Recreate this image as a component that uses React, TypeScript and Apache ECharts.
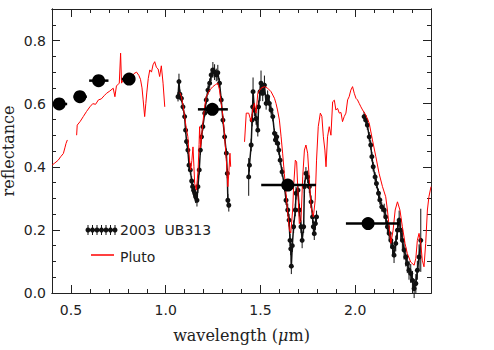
import { useEffect, useRef } from "react";
import * as echarts from "echarts";

// Pluto spectrum (null = gap)
const plutoWave = [
  0.400, 0.415, 0.433, 0.446, 0.460, 0.468, 0.474, 0.481, null,
  0.530, 0.533, 0.548, 0.565, 0.582, 0.600, 0.615, 0.630, 0.645, 0.660, 0.675, 0.688, 0.705, 0.723, 0.732, 0.740, 0.755, 0.762, 0.767, 0.780, 0.793, 0.805, 0.819, 0.832, 0.846, 0.858, 0.867, 0.875, 0.881, 0.889, 0.895, 0.900, 0.908, 0.916, 0.925, 0.933, 0.942, 0.951, 0.960, 0.968, 0.977, 0.986, 0.995, null,
  1.075, 1.083, 1.091, 1.100, 1.108, 1.117, 1.126, 1.132, 1.138, 1.144, 1.149, 1.153, 1.162, 1.171, 1.176, 1.179, 1.184, 1.190, 1.196, 1.205, 1.214, 1.232, 1.249, 1.262, 1.275, 1.284, 1.293, 1.302, 1.311, 1.320, 1.328, 1.333, 1.339, 1.343, null,
  1.416, 1.425, 1.438, 1.451, 1.459, 1.468, 1.477, 1.486, 1.503, 1.521, 1.538, 1.556, 1.574, 1.582, 1.590, 1.600, 1.609, 1.617, 1.626, 1.635, 1.644, 1.653, 1.660, 1.670, 1.675, 1.684, 1.691, 1.698, 1.705, 1.714, 1.723, 1.732, 1.740, 1.749, 1.758, 1.767, 1.779, 1.789, 1.796, 1.805, 1.816, 1.824, 1.832, 1.840, 1.846, 1.854, 1.863, 1.872, 1.881, 1.890, 1.898, 1.907, 1.916, 1.925, 1.933, 1.942, 1.951, 1.960, 1.968, 1.977, 1.986, 1.995, 2.004, 2.012, 2.021, 2.030, 2.039, 2.056, 2.074, 2.091, 2.109, 2.126, 2.144, 2.161, 2.170, 2.179, 2.188, 2.200, 2.211, 2.223, 2.236, 2.249, 2.263, 2.275, 2.293, 2.311, 2.320, 2.328, 2.337, 2.346, 2.354, 2.363, 2.372, 2.381, 2.389, 2.400,
];
const plutoRefl = [
  0.405, 0.412, 0.421, 0.432, 0.442, 0.460, 0.474, 0.485, null,
  0.500, 0.532, 0.543, 0.559, 0.575, 0.590, 0.600, 0.598, 0.612, 0.615, 0.625, 0.633, 0.640, 0.649, 0.622, 0.656, 0.665, 0.760, 0.665, 0.680, 0.691, 0.685, 0.681, 0.695, 0.700, 0.690, 0.677, 0.650, 0.612, 0.559, 0.600, 0.634, 0.680, 0.707, 0.700, 0.723, 0.733, 0.715, 0.710, 0.686, 0.720, 0.665, 0.590, null,
  0.635, 0.622, 0.595, 0.559, 0.525, 0.495, 0.421, 0.390, 0.420, 0.463, 0.400, 0.347, 0.326, 0.390, 0.470, 0.527, 0.460, 0.500, 0.538, 0.590, 0.622, 0.643, 0.654, 0.660, 0.665, 0.643, 0.600, 0.559, 0.495, 0.421, 0.337, 0.380, 0.443, 0.400, null,
  0.479, 0.570, 0.570, 0.543, 0.580, 0.601, 0.570, 0.633, 0.649, 0.654, 0.649, 0.638, 0.617, 0.601, 0.580, 0.548, 0.495, 0.443, 0.379, 0.316, 0.252, 0.199, 0.190, 0.263, 0.337, 0.421, 0.415, 0.316, 0.220, 0.230, 0.368, 0.453, 0.469, 0.443, 0.358, 0.273, 0.241, 0.294, 0.421, 0.527, 0.570, 0.560, 0.495, 0.453, 0.400, 0.495, 0.527, 0.500, 0.606, 0.611, 0.580, 0.585, 0.570, 0.572, 0.543, 0.559, 0.570, 0.612, 0.622, 0.643, 0.654, 0.633, 0.617, 0.612, 0.601, 0.590, 0.580, 0.564, 0.538, 0.485, 0.432, 0.379, 0.337, 0.305, 0.263, 0.210, 0.157, 0.199, 0.263, 0.289, 0.263, 0.210, 0.157, 0.125, 0.098, 0.088, 0.110, 0.167, 0.189, 0.157, 0.104, 0.083, 0.157, 0.263, 0.305, 0.337,
];

// 2003 UB313 spectrum, three bands
const ub1Wave = [1.065, 1.070, 1.075, 1.083, 1.091, 1.100, 1.105, 1.110, 1.117, 1.123, 1.130, 1.137, 1.142, 1.147, 1.153, 1.158, 1.165, 1.170, 1.177, 1.183, 1.189, 1.196, 1.206, 1.214, 1.223, 1.232, 1.240, 1.249, 1.258, 1.267, 1.275, 1.284, 1.293, 1.302, 1.311, 1.320, 1.325, 1.328, 1.333];
const ub1Refl = [0.622, 0.670, 0.630, 0.617, 0.590, 0.559, 0.516, 0.480, 0.453, 0.405, 0.390, 0.355, 0.337, 0.326, 0.316, 0.305, 0.294, 0.337, 0.390, 0.453, 0.495, 0.527, 0.570, 0.612, 0.643, 0.665, 0.691, 0.707, 0.700, 0.691, 0.698, 0.665, 0.612, 0.548, 0.495, 0.443, 0.379, 0.294, 0.278];
const ub1Err = [0.015, 0.025, 0.015, 0.012, 0.012, 0.012, 0.012, 0.012, 0.012, 0.015, 0.015, 0.015, 0.02, 0.02, 0.02, 0.02, 0.02, 0.02, 0.015, 0.015, 0.012, 0.012, 0.012, 0.012, 0.015, 0.015, 0.02, 0.025, 0.025, 0.02, 0.025, 0.015, 0.012, 0.012, 0.012, 0.015, 0.015, 0.02, 0.02];

const ub2Wave = [1.438, 1.442, 1.451, 1.456, 1.459, 1.461, 1.468, 1.477, 1.486, 1.490, 1.498, 1.503, 1.512, 1.521, 1.530, 1.538, 1.547, 1.556, 1.565, 1.574, 1.579, 1.586, 1.591, 1.597, 1.604, 1.614, 1.627, 1.635, 1.644, 1.651, 1.656, 1.660, 1.663, 1.668, 1.675, 1.684, 1.688, 1.698, 1.705, 1.714, 1.720, 1.728, 1.732, 1.740, 1.749, 1.758, 1.767, 1.775, 1.779, 1.784, 1.790, 1.796];
const ub2Refl = [0.368, 0.405, 0.469, 0.548, 0.590, 0.638, 0.580, 0.553, 0.516, 0.590, 0.638, 0.665, 0.633, 0.659, 0.601, 0.622, 0.601, 0.580, 0.559, 0.506, 0.485, 0.495, 0.474, 0.453, 0.421, 0.384, 0.337, 0.294, 0.263, 0.231, 0.167, 0.140, 0.085, 0.150, 0.210, 0.263, 0.316, 0.326, 0.263, 0.210, 0.167, 0.210, 0.337, 0.379, 0.368, 0.337, 0.289, 0.241, 0.210, 0.188, 0.220, 0.241];
const ub2Err = [0.06, 0.02, 0.02, 0.02, 0.02, 0.045, 0.02, 0.02, 0.02, 0.02, 0.03, 0.04, 0.025, 0.03, 0.02, 0.02, 0.02, 0.015, 0.015, 0.015, 0.015, 0.015, 0.015, 0.015, 0.015, 0.015, 0.015, 0.015, 0.02, 0.02, 0.02, 0.02, 0.025, 0.02, 0.02, 0.02, 0.02, 0.02, 0.02, 0.02, 0.025, 0.02, 0.02, 0.02, 0.02, 0.02, 0.02, 0.02, 0.02, 0.02, 0.02, 0.02];

const ub3Wave = [2.047, 2.056, 2.064, 2.074, 2.082, 2.088, 2.095, 2.105, 2.112, 2.123, 2.130, 2.140, 2.153, 2.161, 2.170, 2.179, 2.188, 2.197, 2.205, 2.214, 2.223, 2.232, 2.240, 2.249, 2.258, 2.267, 2.275, 2.284, 2.293, 2.302, 2.311, 2.320, 2.328, 2.337, 2.346];
const ub3Refl = [0.559, 0.548, 0.532, 0.495, 0.469, 0.432, 0.400, 0.368, 0.347, 0.316, 0.295, 0.273, 0.263, 0.241, 0.210, 0.189, 0.167, 0.146, 0.120, 0.157, 0.199, 0.231, 0.199, 0.167, 0.136, 0.114, 0.093, 0.072, 0.062, 0.040, 0.014, 0.030, 0.072, 0.114, 0.167];
const ub3Err = [0.015, 0.015, 0.015, 0.015, 0.015, 0.015, 0.015, 0.015, 0.015, 0.015, 0.015, 0.015, 0.02, 0.02, 0.02, 0.02, 0.025, 0.025, 0.025, 0.025, 0.03, 0.03, 0.03, 0.03, 0.03, 0.03, 0.03, 0.03, 0.03, 0.03, 0.03, 0.03, 0.03, 0.04, 0.10];

// Broadband photometry
const photWave = [0.438, 0.547, 0.646, 0.807, 1.246, 1.644, 2.068];
const photRefl = [0.599, 0.622, 0.673, 0.678, 0.582, 0.342, 0.220];
const photLo = [0.41, 0.514, 0.596, 0.768, 1.17, 1.504, 1.951];
const photHi = [0.48, 0.584, 0.698, 0.838, 1.328, 1.793, 2.232];

// Ticks
const xMajor = [0.5, 1.0, 1.5, 2.0];
const xMinor = [0.4, 0.5, 0.6, 0.7, 0.8, 0.9, 1.0, 1.1, 1.2, 1.3, 1.4, 1.5, 1.6, 1.7, 1.8, 1.9, 2.0, 2.1, 2.2, 2.3, 2.4];
const yMajor = [0.0, 0.2, 0.4, 0.6, 0.8];
const yMinor = [0.0, 0.05, 0.1, 0.15, 0.2, 0.25, 0.3, 0.35, 0.4, 0.45, 0.5, 0.55, 0.6, 0.65, 0.7, 0.75, 0.8, 0.85, 0.9];

function segments(w: (number | null)[], r: (number | null)[]) {
  const out: number[][][] = [];
  let cur: number[][] = [];
  w.forEach((x, i) => {
    if (x == null || r[i] == null) {
      if (cur.length) out.push(cur);
      cur = [];
    } else cur.push([x, r[i] as number]);
  });
  if (cur.length) out.push(cur);
  return out;
}

const AXC = "#222";
const tickFont = "DejaVu Sans";
const serif = "DejaVu Serif";

export default function App() {
  const ref = useRef<HTMLDivElement>(null);
  useEffect(() => {
    const chart = echarts.init(ref.current!, null, { renderer: "svg" });

    const mkX = (pos: string, vals: number[], len: number, labels: boolean, name?: boolean): any => ({
      type: "value",
      position: pos,
      min: 0.4,
      max: 2.4,
      axisLine: { show: true, onZero: false, lineStyle: { color: AXC, width: 1 } },
      axisTick: { show: true, inside: true, length: len, customValues: vals, lineStyle: { color: AXC, width: 1 } },
      axisLabel: labels
        ? { show: true, customValues: xMajor, margin: 10, fontFamily: tickFont, fontSize: 14, color: "#222", formatter: (v: number) => v.toFixed(1) }
        : { show: false },
      splitLine: { show: false },
      ...(name
        ? {
            name: "wavelength ({i|μ}m)",
            nameLocation: "middle",
            nameGap: 34,
            nameMoveOverlap: false,
            nameTextStyle: { fontFamily: serif, fontSize: 16, color: "#222", rich: { i: { fontFamily: serif, fontSize: 16, fontStyle: "italic", color: "#222" } } },
          }
        : {}),
    });
    const mkY = (pos: string, vals: number[], len: number, labels: boolean, name?: boolean): any => ({
      type: "value",
      position: pos,
      min: 0,
      max: 0.9,
      axisLine: { show: true, onZero: false, lineStyle: { color: AXC, width: 1 } },
      axisTick: { show: true, inside: true, length: len, customValues: vals, lineStyle: { color: AXC, width: 1 } },
      axisLabel: labels
        ? { show: true, customValues: yMajor, margin: 6, fontFamily: tickFont, fontSize: 14, color: "#222", formatter: (v: number) => v.toFixed(1) }
        : { show: false },
      splitLine: { show: false },
      ...(name
        ? {
            name: "reflectance",
            nameLocation: "middle",
            nameGap: 36,
            nameMoveOverlap: false,
            nameTextStyle: { fontFamily: serif, fontSize: 16, color: "#222" },
          }
        : {}),
    });

    const plutoSegs = segments(plutoWave, plutoRefl);
    const ubBands = [
      [ub1Wave, ub1Refl, ub1Err],
      [ub2Wave, ub2Refl, ub2Err],
      [ub3Wave, ub3Refl, ub3Err],
    ];

    const series: any[] = [];
    ubBands.forEach(([w, r, e]) => {
      series.push({
        type: "custom",
        xAxisIndex: 0,
        yAxisIndex: 0,
        z: 2,
        data: w.map((x, i) => [x, r[i], e[i] ?? 0.02]),
        renderItem: (_p: any, api: any) => {
          const x = api.value(0), y = api.value(1), er = api.value(2);
          const a = api.coord([x, y - er]);
          const b = api.coord([x, y + er]);
          return { type: "line", shape: { x1: a[0], y1: a[1], x2: b[0], y2: b[1] }, style: { stroke: "#111", lineWidth: 1 } };
        },
      });
      series.push({
        type: "line",
        xAxisIndex: 0,
        yAxisIndex: 0,
        z: 3,
        data: w.map((x, i) => [x, r[i]]),
        symbol: "circle",
        symbolSize: 5,
        showSymbol: true,
        lineStyle: { color: "#111", width: 1.5 },
        itemStyle: { color: "#111", opacity: 1 },
      });
    });
    plutoSegs.forEach((seg) => {
      series.push({
        type: "line",
        xAxisIndex: 0,
        yAxisIndex: 0,
        z: 4,
        data: seg,
        symbol: "none",
        lineStyle: { color: "#ff0000", width: 1 },
      });
    });
    series.push({
      type: "custom",
      xAxisIndex: 0,
      yAxisIndex: 0,
      z: 5,
      data: photWave.map((x, i) => [x, photRefl[i], photLo[i], photHi[i]]),
      renderItem: (_p: any, api: any) => {
        const y = api.value(1);
        const a = api.coord([api.value(2), y]);
        const b = api.coord([api.value(3), y]);
        return { type: "line", shape: { x1: a[0], y1: a[1], x2: b[0], y2: b[1] }, style: { stroke: "#000", lineWidth: 2.5 } };
      },
    });
    series.push({
      type: "scatter",
      xAxisIndex: 0,
      yAxisIndex: 0,
      z: 6,
      data: photWave.map((x, i) => [x, photRefl[i]]),
      symbol: "circle",
      symbolSize: 13,
      itemStyle: { color: "#000", opacity: 1 },
    });

    const legendDots: any[] = [];
    for (let i = 0; i < 7; i++) {
      const x = 88 + i * 4.5;
      legendDots.push({ type: "line", shape: { x1: x, y1: 225, x2: x, y2: 235 }, style: { stroke: "#111", lineWidth: 1 } });
      legendDots.push({ type: "circle", shape: { cx: x, cy: 230, r: 2.5 }, style: { fill: "#111" } });
    }

    chart.setOption({
      animation: false,
      grid: { left: 52, right: 63, top: 9, bottom: 57, containLabel: false, outerBoundsMode: "none" } as any,
      xAxis: [
        mkX("bottom", xMajor, 8, true, true),
        mkX("bottom", xMinor, 4, false),
        mkX("top", xMajor, 8, false),
        mkX("top", xMinor, 4, false),
      ],
      yAxis: [
        mkY("left", yMajor, 8, true, true),
        mkY("left", yMinor, 4, false),
        mkY("right", yMajor, 8, false),
        mkY("right", yMinor, 4, false),
      ],
      series,
      graphic: [
        { type: "line", shape: { x1: 88, y1: 230, x2: 115, y2: 230 }, style: { stroke: "#111", lineWidth: 1.5 } },
        ...legendDots,
        { type: "text", x: 120, y: 230, style: { text: "2003  UB313", fontFamily: tickFont, fontSize: 14, fill: "#222", verticalAlign: "middle" } },
        { type: "line", shape: { x1: 91, y1: 255, x2: 114, y2: 255 }, style: { stroke: "#ff0000", lineWidth: 1.5 } },
        { type: "text", x: 120, y: 257, style: { text: "Pluto", fontFamily: tickFont, fontSize: 14, fill: "#222", verticalAlign: "middle" } },
      ],
    });
    return () => chart.dispose();
  }, []);
  return <div ref={ref} style={{ position: "fixed", left: 0, top: 0, width: 494, height: 350, background: "#fff" }} />;
}
